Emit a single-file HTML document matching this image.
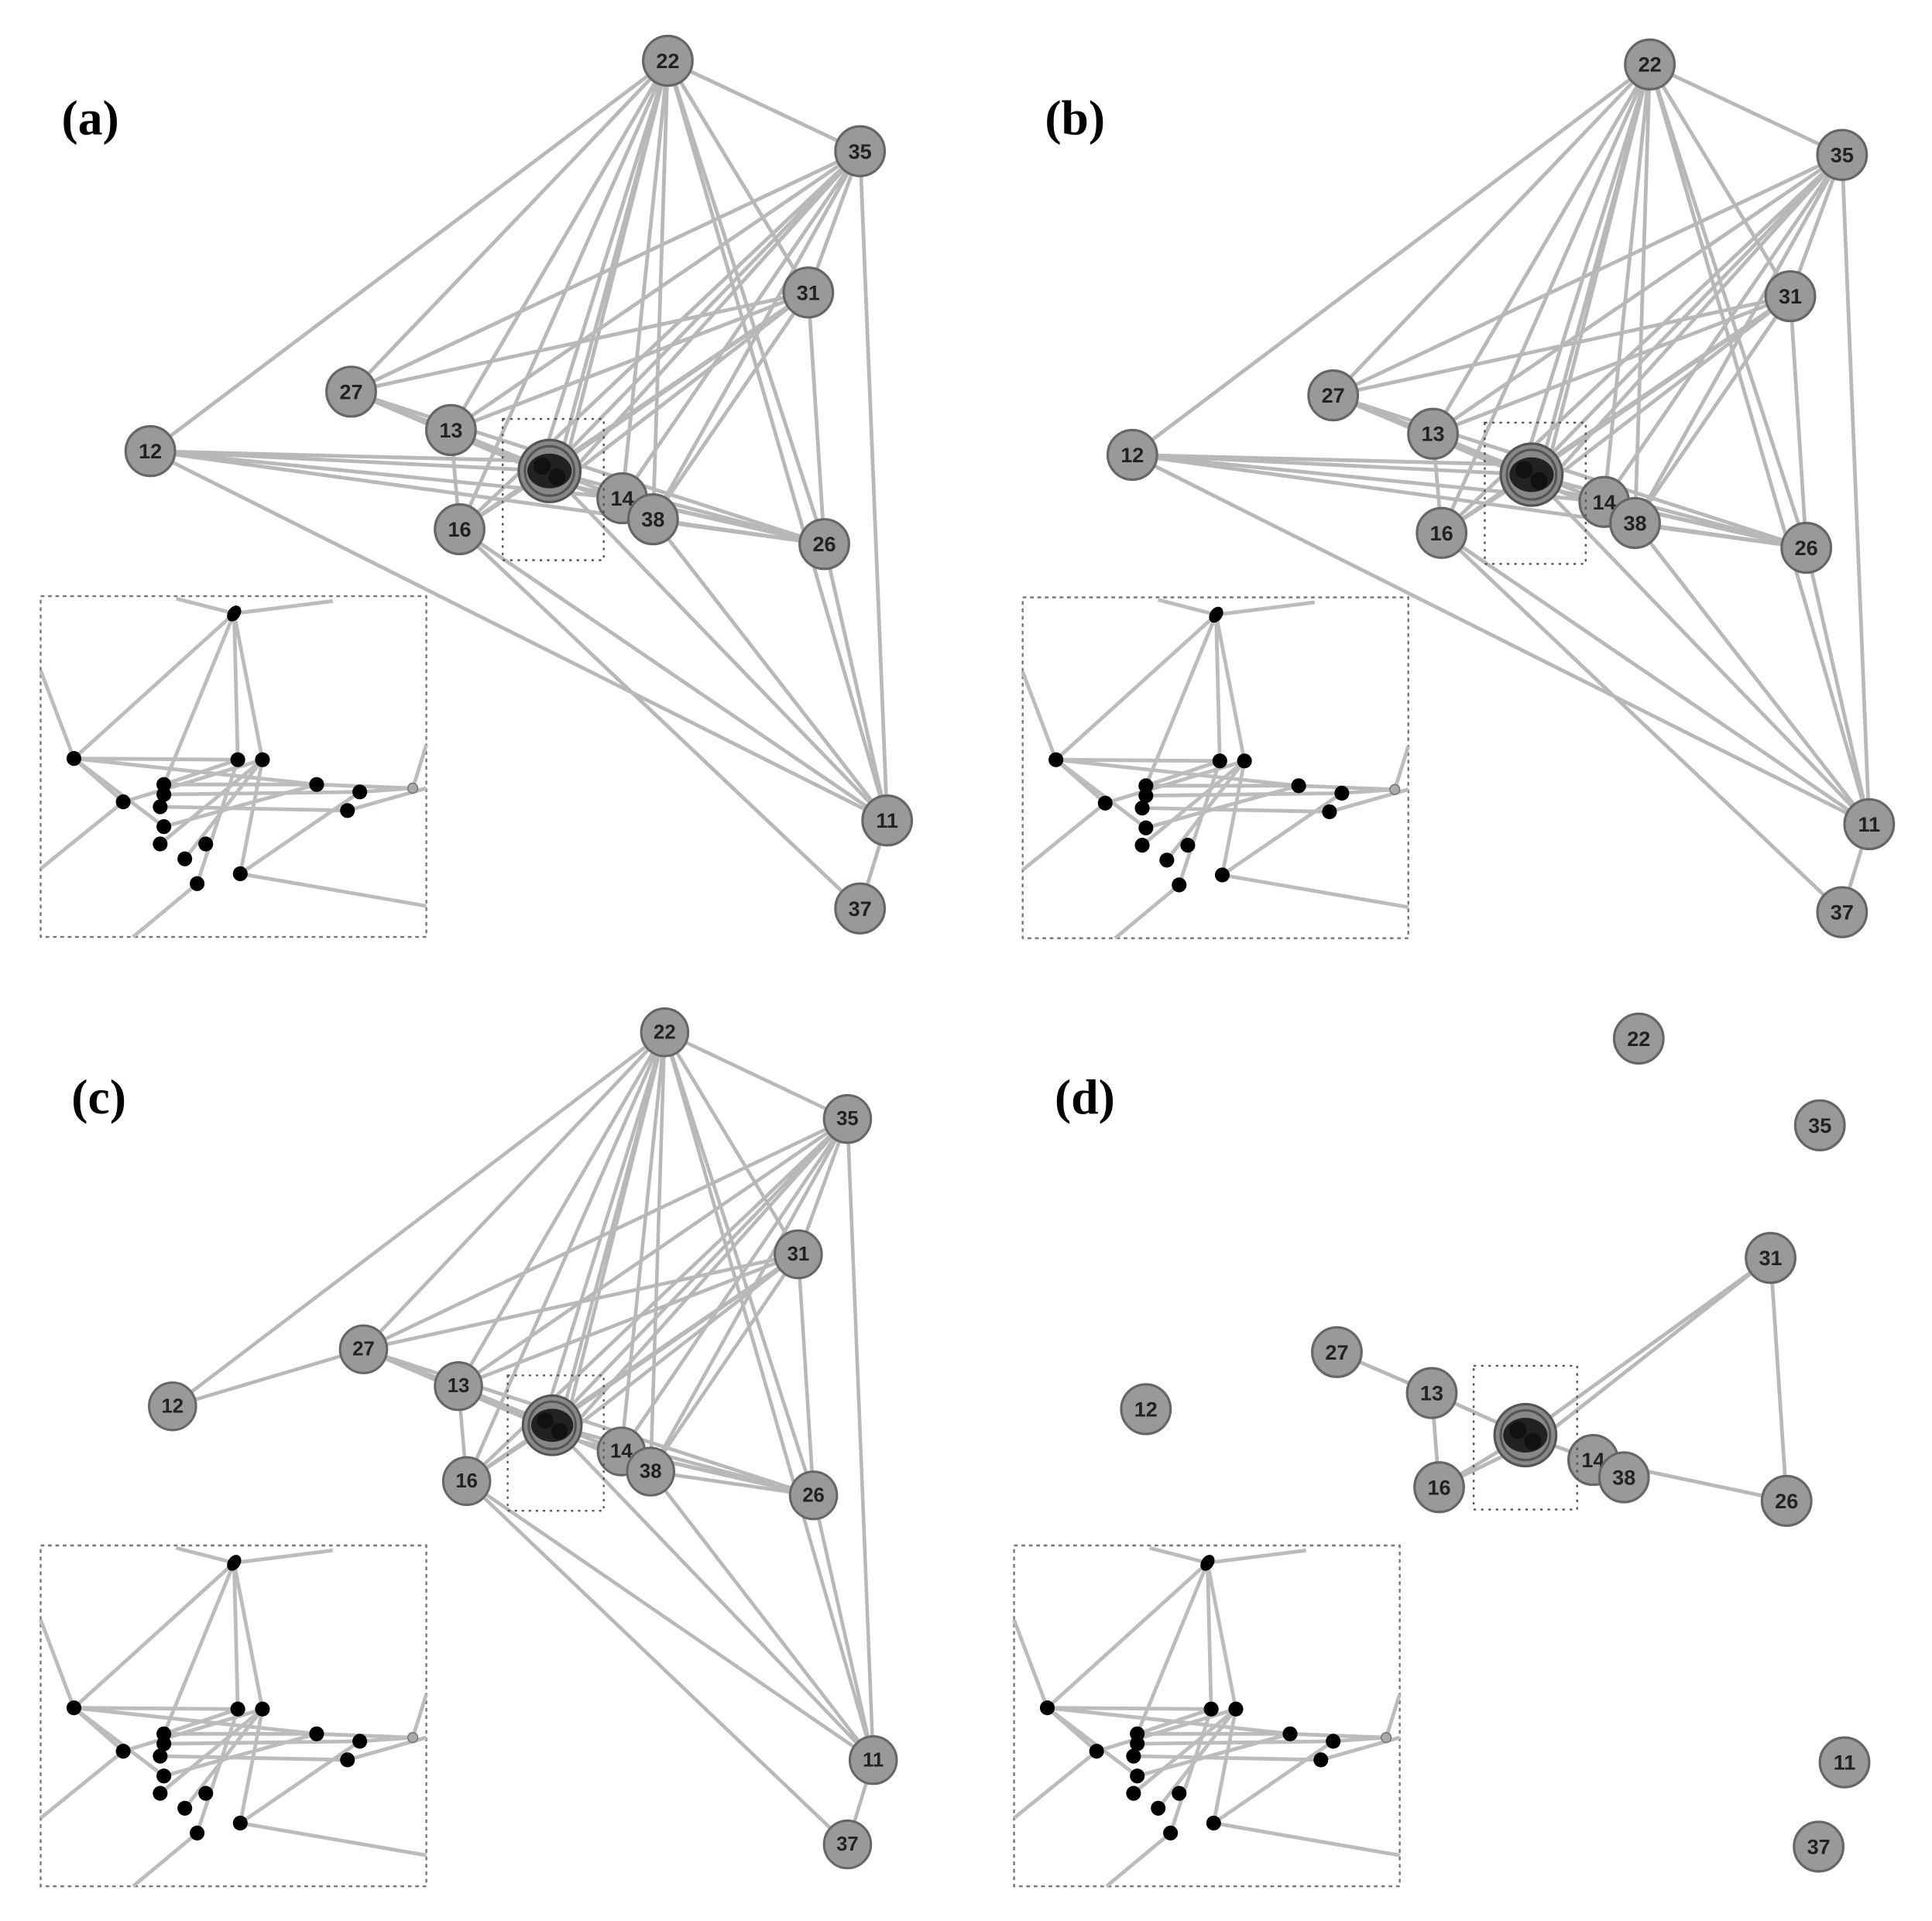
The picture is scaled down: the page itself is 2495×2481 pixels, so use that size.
<!DOCTYPE html>
<html><head><meta charset="utf-8"><style>
html,body{margin:0;padding:0;background:#fff}
svg{display:block}
text{font-family:"Liberation Sans",sans-serif;font-weight:bold;font-size:17px;fill:#222;text-anchor:middle;dominant-baseline:central}
.lab{font-family:"Liberation Serif",serif;font-size:40px;fill:#000;text-anchor:start}
</style></head><body>
<svg width="2495" height="2481" viewBox="0 0 1568 1550" preserveAspectRatio="none" xmlns="http://www.w3.org/2000/svg">
<defs>
<g id="node"><circle r="20" fill="#999" stroke="#666" stroke-width="2"/></g>
<g id="cluster">
<circle r="25" fill="#888" stroke="#555" stroke-width="2"/>
<circle r="20" fill="none" stroke="#555" stroke-width="2"/>
<ellipse rx="18" ry="14" fill="#222"/>
<circle cx="-6" cy="-4" r="7" fill="#111"/><circle cx="6" cy="5" r="7" fill="#111"/>
</g>
<g id="core">
<g stroke="#b8b8b8" stroke-width="3" fill="none">
<path d="M542 49L285 316M542 49L366 347M542 49L440 372M542 49L452 380M542 49L460 370M542 49L505 402M542 49L530 419M542 49L698 122M542 49L656 236M542 49L669 439M542 49L373 427M542 49L720 662"/>
<path d="M698 122L285 316M698 122L446 380M698 122L460 385M698 122L366 347M698 122L505 402M698 122L656 236M698 122L720 662M698 122L373 427M698 122L530 419"/>
<path d="M656 236L285 316M656 236L446 380M656 236L455 390M656 236L530 419M656 236L669 439M656 236L373 427M656 236L366 347"/>
<path d="M285 316L446 380M285 316L366 347M285 316L530 419M285 316L669 439M285 316L505 402"/>
<path d="M366 347L446 380M373 427L446 380M373 427L720 662M373 427L698 733M366 347L373 427"/>
<path d="M446 380L669 439M455 390L669 439M446 380L720 662M505 402L669 439M530 419L669 439M669 439L720 662M720 662L698 733M530 419L720 662"/>
</g>
<use href="#node" x="542" y="49"/><text x="542" y="49">22</text>
<use href="#node" x="698" y="122"/><text x="698" y="122">35</text>
<use href="#node" x="656" y="236"/><text x="656" y="236">31</text>
<use href="#node" x="285" y="316"/><text x="285" y="316">27</text>
<use href="#node" x="366" y="347"/><text x="366" y="347">13</text>
<use href="#node" x="373" y="427"/><text x="373" y="427">16</text>
<use href="#node" x="669" y="439"/><text x="669" y="439">26</text>
<use href="#node" x="720" y="662"/><text x="720" y="662">11</text>
<use href="#node" x="698" y="733"/><text x="698" y="733">37</text>
<use href="#node" x="505" y="402"/><text x="505" y="402">14</text>
<use href="#node" x="530" y="419"/><text x="530" y="419">38</text>
<use href="#cluster" x="446" y="380"/>
<rect x="408" y="338" width="82" height="114" fill="none" stroke="#555" stroke-width="1.5" stroke-dasharray="2 4"/>
</g>
<g id="ins">
<rect x="0" y="0" width="313" height="275" fill="#fff" stroke="#777" stroke-width="1.5" stroke-dasharray="3 3"/>
<g stroke="#bcbcbc" stroke-width="3" fill="none">
<path d="M157 14L237 4M157 14L110 2M157 14L27 131M157 14L100 152M157 14L180 132M157 14L160 132M27 131L0 60M27 131L160 132M27 131L100 186M27 131L67 166M0 220L67 166M67 166L180 132M100 152L224 152M100 160L259 158M100 170L249 173M100 186L224 152M97 200L180 132M117 212L180 132M127 232L160 132M162 224L180 132M162 224L259 158M162 224L313 250M127 232L75 275M224 152L302 155M259 158L302 155M302 155L313 120M249 173L313 155M27 131L224 152M100 152L160 132"/>
</g>
<g fill="#000">
<ellipse cx="157" cy="14" rx="5" ry="7" transform="rotate(35 157 14)"/>
<circle cx="27" cy="131" r="6"/><circle cx="100" cy="152" r="6"/><circle cx="100" cy="160" r="6"/>
<circle cx="67" cy="166" r="6"/><circle cx="97" cy="170" r="6"/><circle cx="160" cy="132" r="6"/>
<circle cx="180" cy="132" r="6"/><circle cx="224" cy="152" r="6"/><circle cx="259" cy="158" r="6"/>
<circle cx="249" cy="173" r="6"/><circle cx="100" cy="186" r="6"/><circle cx="97" cy="200" r="6"/>
<circle cx="117" cy="212" r="6"/><circle cx="134" cy="200" r="6"/><circle cx="127" cy="232" r="6"/>
<circle cx="162" cy="224" r="6"/>
</g>
<circle cx="302" cy="155" r="4" fill="#aaa" stroke="#777"/>
</g>
</defs>

<!-- (a) -->
<g stroke="#b8b8b8" stroke-width="3"><path d="M122 364L542 49M122 364L446 380M122 364L440 372M122 364L669 439M122 364L720 662M122 364L505 402"/></g>
<use href="#core"/>
<use href="#node" x="122" y="364"/><text x="122" y="364">12</text>
<use href="#ins" x="33" y="481"/>
<text class="lab" x="50" y="95">(a)</text>

<!-- (b) -->
<g transform="translate(797,3)">
<g stroke="#b8b8b8" stroke-width="3"><path d="M122 364L542 49M122 364L446 380M122 364L440 372M122 364L669 439M122 364L720 662M122 364L505 402"/></g>
<use href="#core"/>
<use href="#node" x="122" y="364"/><text x="122" y="364">12</text>
</g>
<use href="#ins" x="830" y="482"/>
<text class="lab" x="848" y="95">(b)</text>

<!-- (c) -->
<g transform="translate(24,786) scale(0.951,0.958)">
<g stroke="#b8b8b8" stroke-width="3"><path d="M122 364L542 49M122 364L285 316"/></g>
<use href="#core"/>
<use href="#node" x="122" y="364"/><text x="122" y="364">12</text>
</g>
<use href="#ins" x="33" y="1247"/>
<text class="lab" x="58" y="885">(c)</text>

<!-- (d) -->
<g stroke="#b8b8b8" stroke-width="3" fill="none">
<path d="M1085 1091L1162 1124M1162 1124L1238 1158M1162 1124L1168 1200M1168 1200L1238 1158M1168 1200L1230 1170M1238 1158L1437 1015M1245 1165L1437 1015M1437 1015L1450 1211M1293 1178L1450 1211M1238 1158L1293 1178"/>
</g>
<use href="#node" x="1330" y="838"/><text x="1330" y="838">22</text>
<use href="#node" x="1477" y="908"/><text x="1477" y="908">35</text>
<use href="#node" x="1437" y="1015"/><text x="1437" y="1015">31</text>
<use href="#node" x="1085" y="1091"/><text x="1085" y="1091">27</text>
<use href="#node" x="930" y="1137"/><text x="930" y="1137">12</text>
<use href="#node" x="1162" y="1124"/><text x="1162" y="1124">13</text>
<use href="#node" x="1168" y="1200"/><text x="1168" y="1200">16</text>
<use href="#node" x="1450" y="1211"/><text x="1450" y="1211">26</text>
<use href="#node" x="1497" y="1422"/><text x="1497" y="1422">11</text>
<use href="#node" x="1476" y="1490"/><text x="1476" y="1490">37</text>
<use href="#node" x="1293" y="1178"/><text x="1293" y="1178">14</text>
<use href="#node" x="1318" y="1192"/><text x="1318" y="1192">38</text>
<use href="#cluster" x="1238" y="1158"/>
<rect x="1196" y="1102" width="84" height="116" fill="none" stroke="#555" stroke-width="1.5" stroke-dasharray="2 4"/>
<use href="#ins" x="823" y="1247"/>
<text class="lab" x="856" y="885">(d)</text>
</svg>
</body></html>
